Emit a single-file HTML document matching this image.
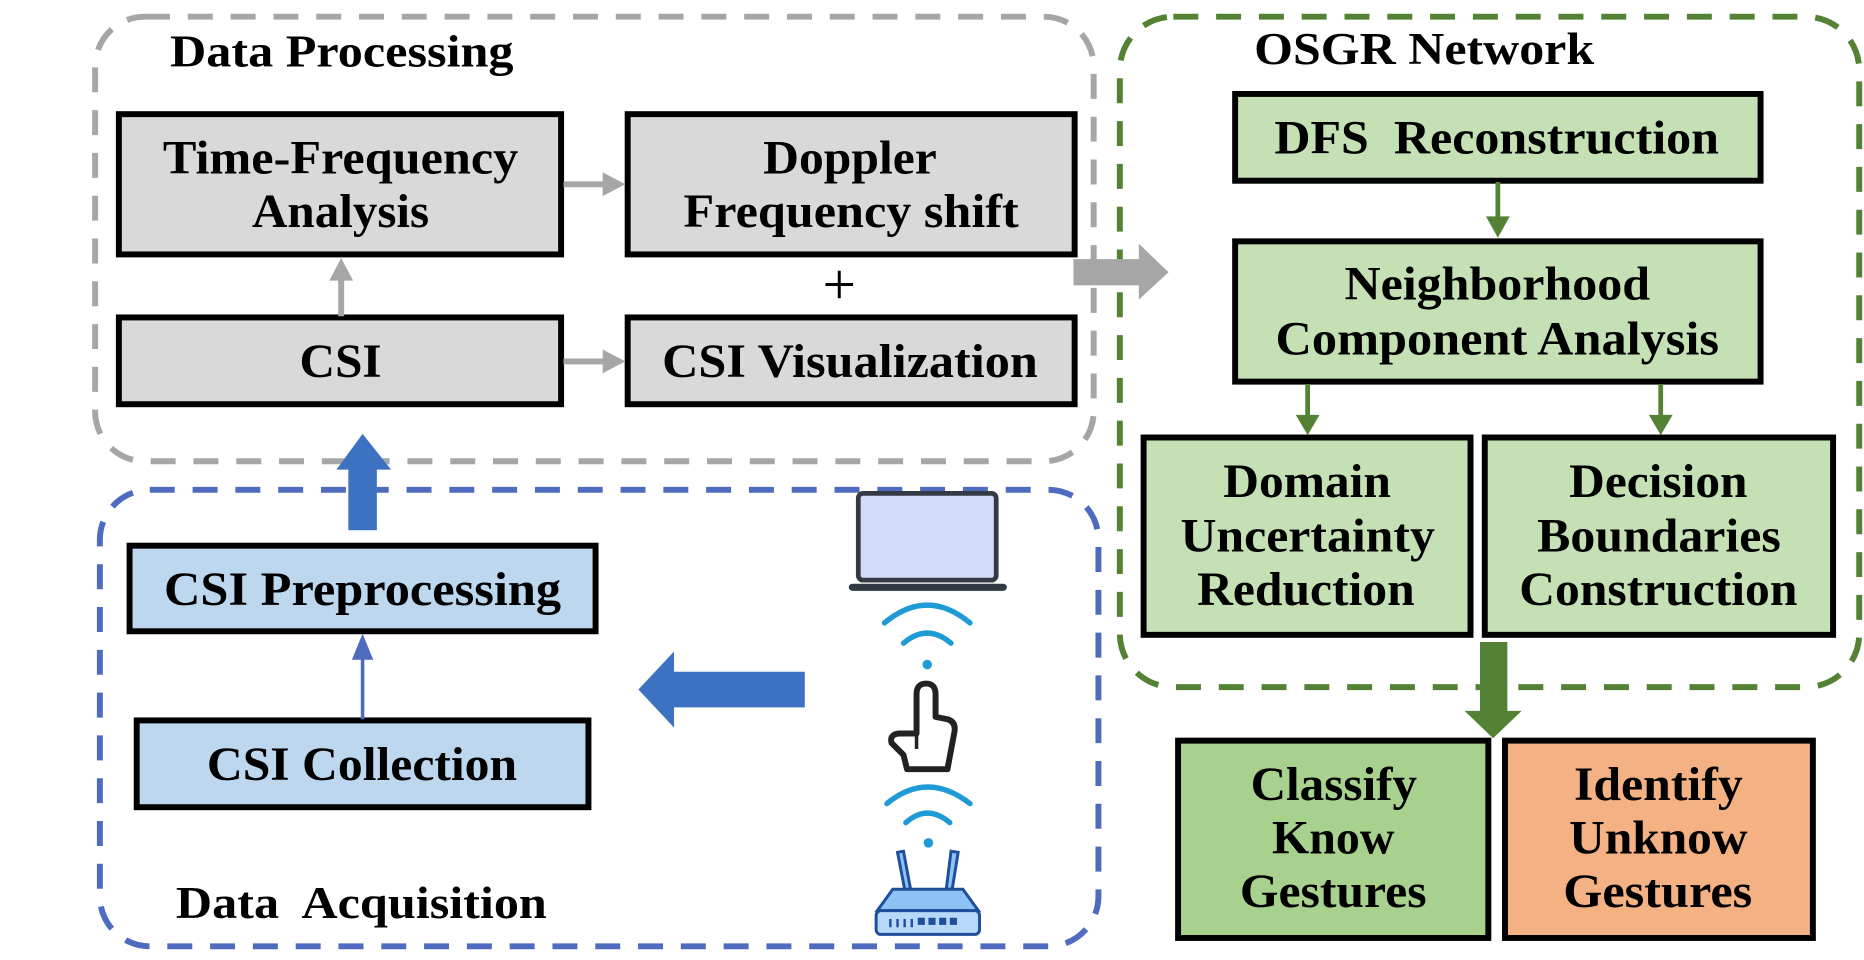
<!DOCTYPE html>
<html><head><meta charset="utf-8"><style>
html,body{margin:0;padding:0;background:#fff;width:1864px;height:960px;overflow:hidden}
svg{display:block}
</style></head><body>
<svg width="1864" height="960" viewBox="0 0 1568 807.5" xmlns="http://www.w3.org/2000/svg">
<!-- dashed containers -->
<rect x="80" y="14" width="840" height="374" rx="42" fill="none" stroke="#a6a6a6" stroke-width="5" stroke-dasharray="21 15"/>
<rect x="942" y="14" width="622" height="564" rx="45" fill="none" stroke="#548235" stroke-width="5" stroke-dasharray="21 15"/>
<rect x="84" y="412" width="840" height="384" rx="42" fill="none" stroke="#4f6bbf" stroke-width="5" stroke-dasharray="21 15"/>

<!-- gray boxes -->
<g stroke="#000" stroke-width="5" fill="#d9d9d9">
<rect x="100" y="96" width="372" height="118"/>
<rect x="528" y="96" width="376" height="118"/>
<rect x="100" y="267" width="372" height="73"/>
<rect x="528" y="267" width="376" height="73"/>
</g>

<!-- gray arrows -->
<g stroke="#a6a6a6" stroke-width="5" fill="#a6a6a6">
<line x1="474" y1="155" x2="510" y2="155"/>
<line x1="474" y1="304" x2="510" y2="304"/>
<line x1="287" y1="266" x2="287" y2="232"/>
</g>
<g fill="#a6a6a6">
<polygon points="507,145 526,155 507,165"/>
<polygon points="507,294 526,304 507,314"/>
<polygon points="277,236 287,217 297,236"/>
<polygon points="903,218 958,218 958,205 983,229 958,252 958,240 903,240"/>
</g>

<!-- green boxes -->
<g stroke="#000" stroke-width="5" fill="#c5e0b4">
<rect x="1039" y="79" width="442" height="73"/>
<rect x="1039" y="203" width="442" height="118"/>
<rect x="962" y="368" width="275" height="166"/>
<rect x="1249" y="368" width="293" height="166"/>
</g>
<rect x="991" y="623" width="261" height="166" fill="#a9d18e" stroke="#000" stroke-width="5"/>
<rect x="1266" y="623" width="259" height="166" fill="#f4b183" stroke="#000" stroke-width="5"/>
<g stroke="#548235" stroke-width="4">
<line x1="1260" y1="153" x2="1260" y2="186"/>
<line x1="1100" y1="323" x2="1100" y2="352"/>
<line x1="1397" y1="323" x2="1397" y2="352"/>
</g>
<g fill="#548235">
<polygon points="1250,182 1270,182 1260,200"/>
<polygon points="1090,349 1110,349 1100,366"/>
<polygon points="1387,349 1407,349 1397,366"/>
<polygon points="1245,540 1268,540 1268,598 1280,598 1256,621 1232,598 1245,598"/>
</g>

<!-- blue boxes -->
<g stroke="#000" stroke-width="5" fill="#bdd7ee">
<rect x="109" y="459" width="392" height="72"/>
<rect x="115" y="606" width="380" height="73"/>
</g>
<line x1="305" y1="605" x2="305" y2="550" stroke="#4f6bbf" stroke-width="3"/>
<polygon points="296,555 305,533 314,555" fill="#4f6bbf"/>
<polygon points="293,446 317,446 317,395 329,395 305,365 283,395 293,395" fill="#3d72c2"/>
<polygon points="677,565 567,565 567,548 537,580 567,612 567,595 677,595" fill="#3d72c2"/>

<!-- texts -->
<g font-family="'Liberation Serif','DejaVu Serif',serif" font-weight="bold" fill="#000" font-size="40" lengthAdjust="spacingAndGlyphs">
<text x="143" y="56" font-size="38" textLength="289" lengthAdjust="spacingAndGlyphs">Data Processing</text>
<text x="1055" y="54" font-size="38" textLength="286" lengthAdjust="spacingAndGlyphs">OSGR Network</text>
<text x="148" y="772" font-size="38" textLength="312" lengthAdjust="spacingAndGlyphs" xml:space="preserve">Data  Acquisition</text>

<text x="137" y="146" textLength="299" lengthAdjust="spacingAndGlyphs">Time-Frequency</text>
<text x="212" y="191" textLength="149" lengthAdjust="spacingAndGlyphs">Analysis</text>
<text x="642" y="146" textLength="146" lengthAdjust="spacingAndGlyphs">Doppler</text>
<text x="575" y="191" textLength="282" lengthAdjust="spacingAndGlyphs">Frequency shift</text>
<text x="252" y="317" textLength="69" lengthAdjust="spacingAndGlyphs">CSI</text>
<text x="557" y="317" textLength="316" lengthAdjust="spacingAndGlyphs">CSI Visualization</text>

<text x="1072" y="129" textLength="374" lengthAdjust="spacingAndGlyphs" xml:space="preserve">DFS  Reconstruction</text>
<text x="1131" y="252" textLength="257" lengthAdjust="spacingAndGlyphs">Neighborhood</text>
<text x="1073" y="298" textLength="373" lengthAdjust="spacingAndGlyphs">Component Analysis</text>
<text x="1029" y="418" textLength="141" lengthAdjust="spacingAndGlyphs">Domain</text>
<text x="993" y="464" textLength="214" lengthAdjust="spacingAndGlyphs">Uncertainty</text>
<text x="1007" y="509" textLength="183" lengthAdjust="spacingAndGlyphs">Reduction</text>
<text x="1320" y="418" textLength="150" lengthAdjust="spacingAndGlyphs">Decision</text>
<text x="1293" y="464" textLength="205" lengthAdjust="spacingAndGlyphs">Boundaries</text>
<text x="1278" y="509" textLength="234" lengthAdjust="spacingAndGlyphs">Construction</text>
<text x="1052" y="673" textLength="140" lengthAdjust="spacingAndGlyphs">Classify</text>
<text x="1070" y="718" textLength="103" lengthAdjust="spacingAndGlyphs">Know</text>
<text x="1043" y="763" textLength="157" lengthAdjust="spacingAndGlyphs">Gestures</text>
<text x="1324" y="673" textLength="142" lengthAdjust="spacingAndGlyphs">Identify</text>
<text x="1320" y="718" textLength="150" lengthAdjust="spacingAndGlyphs">Unknow</text>
<text x="1315" y="763" textLength="159" lengthAdjust="spacingAndGlyphs">Gestures</text>

<text x="138" y="509" textLength="334" lengthAdjust="spacingAndGlyphs">CSI Preprocessing</text>
<text x="174" y="656" textLength="261" lengthAdjust="spacingAndGlyphs">CSI Collection</text>
</g>
<text x="706" y="256" font-size="50" text-anchor="middle" font-family="'Liberation Serif',serif">+</text>

<!-- laptop -->
<rect x="722" y="415" width="116" height="73" rx="4" fill="#d4dcfb" stroke="#333a45" stroke-width="4"/>
<rect x="714" y="491" width="133" height="6" rx="3" fill="#333a45"/>
<!-- wifi -->
<g fill="none" stroke="#1e9ad6" stroke-width="4.5" stroke-linecap="round">
<path d="M744,524 Q780,494 816,524"/>
<path d="M760,541 Q780,524 800,541"/>
<path d="M746,676 Q780,648 816,676"/>
<path d="M762,692 Q780,676 799,692"/>
</g>
<circle cx="780" cy="559" r="4" fill="#1e9ad6"/>
<circle cx="781" cy="709" r="4" fill="#1e9ad6"/>
<!-- hand -->
<path d="M771,584 Q771,575 779,575 Q787,575 787,584 L787,603 L797,605 Q804,607 803,615 L797,647 L763,647 L760,635 L750,625 Q748,618 756,617 L771,617 Z" fill="#fff" stroke="#222" stroke-width="5" stroke-linejoin="round"/>
<line x1="771" y1="617" x2="771" y2="630" stroke="#222" stroke-width="3"/>
<!-- router -->
<g stroke="#1d4f9a" stroke-width="2.5" fill="#8ec2f5">
<polygon points="755,717 760,716 766,748 761,748"/>
<polygon points="800,716 806,717 801,748 796,748"/>
<polygon points="751,748 810,748 823,766 738,766"/>
<rect x="737" y="766" width="87" height="20" rx="4" fill="#b7d8f8"/>
</g>
<g fill="#1d4f9a">
<rect x="748" y="773" width="2" height="7"/><rect x="754" y="773" width="2" height="7"/><rect x="760" y="773" width="2" height="7"/><rect x="766" y="773" width="2" height="7"/>
<rect x="772" y="772" width="6" height="6"/><rect x="781" y="772" width="6" height="6"/><rect x="790" y="772" width="6" height="6"/><rect x="799" y="772" width="6" height="6"/>
</g>
</svg>
</body></html>
